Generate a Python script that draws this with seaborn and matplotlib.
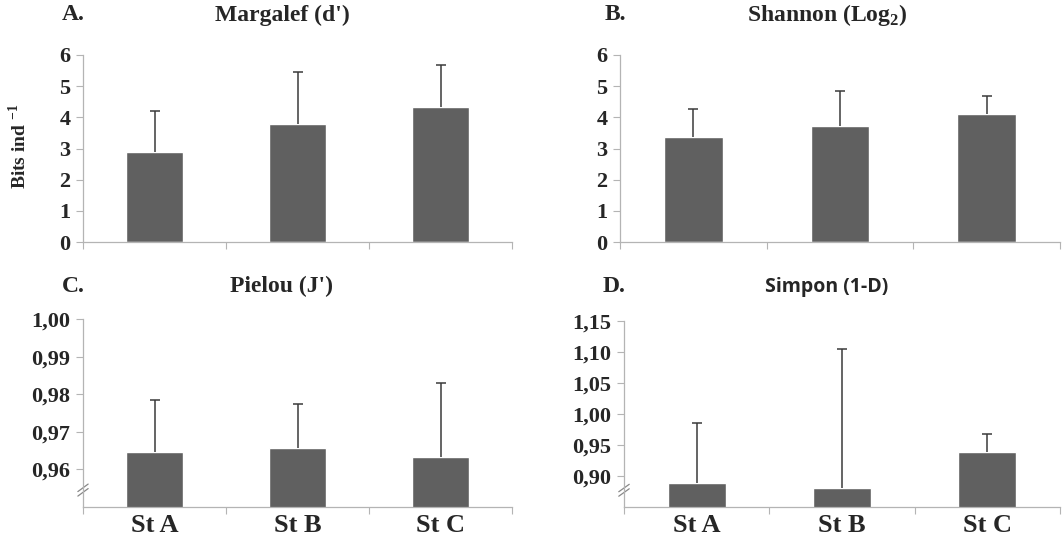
import numpy as np
import pandas as pd
import matplotlib
matplotlib.use("Agg")
import matplotlib.pyplot as plt
import seaborn as sns

# station labels
stations = ["St A", "St B", "St C"]

# mean values and upper standard deviation for each index
margalef_mean = [2.90, 3.80, 4.32]
margalef_sd = [1.30, 1.65, 1.37]

shannon_mean = [3.37, 3.73, 4.10]
shannon_sd = [0.89, 1.13, 0.59]

pielou_mean = [0.9647, 0.9657, 0.9634]
pielou_sd = [0.0137, 0.0117, 0.0197]

simpson_mean = [0.889, 0.881, 0.939]
simpson_sd = [0.097, 0.224, 0.028]

BAR_COLOR = "#606060"
ERR_COLOR = "#3a3a3a"
AXIS_COLOR = "#b4b4b4"

sns.set_theme(style="ticks")
plt.rcParams["font.family"] = ["Liberation Serif", "DejaVu Serif"]
plt.rcParams["font.weight"] = "bold"
plt.rcParams["mathtext.fontset"] = "custom"
plt.rcParams["mathtext.rm"] = "Liberation Serif:bold"
plt.rcParams["mathtext.bf"] = "Liberation Serif:bold"


def draw_panel(ax, means, sds, ylim, yticks, fmt, show_x, broken=False):
    """Bar chart with one-sided error bars in the old Excel look."""
    df = pd.DataFrame({"station": stations, "value": means})
    sns.barplot(data=df, x="station", y="value", color=BAR_COLOR,
                width=0.4, errorbar=None, saturation=1, ax=ax)
    x = np.arange(len(stations))
    eb = ax.errorbar(x, means, yerr=[np.zeros(len(sds)), sds], fmt="none",
                     ecolor=ERR_COLOR, elinewidth=1.1, capsize=3.5,
                     capthick=1.1)
    # only the upper cap is wanted
    eb[1][0].set_visible(False)

    ax.set_xlim(-0.5, len(stations) - 0.5)
    ax.set_ylim(*ylim)
    ax.set_yticks(yticks)
    ax.set_yticklabels([fmt(v).replace(".", ",") for v in yticks],
                       fontsize=16, fontweight="bold")
    ax.set_xlabel("")
    ax.set_ylabel("")

    # category boundaries carry the tick marks, labels sit in the middle
    ax.set_xticks(np.arange(-0.5, len(stations)), minor=True)
    ax.tick_params(axis="x", which="minor", length=5, width=0.8,
                   color=AXIS_COLOR, direction="out")
    ax.tick_params(axis="x", which="major", length=0, pad=5)
    ax.tick_params(axis="y", length=5, width=0.8, color=AXIS_COLOR,
                   direction="out", pad=4)
    if show_x:
        ax.set_xticklabels(stations, fontsize=19, fontweight="bold")
    else:
        ax.set_xticklabels([])

    sns.despine(ax=ax)
    for side in ["left", "bottom"]:
        ax.spines[side].set_color(AXIS_COLOR)
        ax.spines[side].set_linewidth(0.9)

    if broken:
        # little "//" marks on the y axis to show the cut
        yb = 0.09
        for dy in (-0.012, 0.012):
            ax.plot([-0.012, 0.012], [yb + dy - 0.02, yb + dy + 0.02],
                    transform=ax.transAxes, color="#888888", lw=0.9,
                    clip_on=False)


fig = plt.figure(figsize=(10.64, 5.44), dpi=100)
W, H = 1064, 544


def add_axes(left, right, top, bottom):
    return fig.add_axes([left / W, 1 - bottom / H, (right - left) / W,
                         (bottom - top) / H])


ax_a = add_axes(83, 512, 55, 242)
ax_b = add_axes(620, 1060, 55, 242)
ax_c = add_axes(83, 512, 319, 507)
ax_d = add_axes(624, 1060, 321, 507)

draw_panel(ax_a, margalef_mean, margalef_sd, (0, 6), np.arange(0, 7),
           lambda v: f"{v:.0f}", False)
draw_panel(ax_b, shannon_mean, shannon_sd, (0, 6), np.arange(0, 7),
           lambda v: f"{v:.0f}", False)
draw_panel(ax_c, pielou_mean, pielou_sd, (0.95, 1.0),
           np.round(np.arange(0.96, 1.0001, 0.01), 2),
           lambda v: f"{v:.2f}", True, broken=True)
draw_panel(ax_d, simpson_mean, simpson_sd, (0.85, 1.15),
           np.round(np.arange(0.90, 1.1501, 0.05), 2),
           lambda v: f"{v:.2f}", True, broken=True)

ax_a.set_ylabel("Bits ind $^{-1}$", fontsize=14, fontweight="bold")
ax_a.yaxis.set_label_coords(-0.124, 0.51)

# panel letters and titles
def ftext(x, y, s, **kw):
    fig.text(x / W, 1 - y / H, s, ha="center", va="center", **kw)


ftext(73, 15, "A.", fontsize=17, fontweight="bold")
ftext(282, 15, "Margalef (d')", fontsize=17, fontweight="bold")
ftext(615, 15, "B.", fontsize=17, fontweight="bold")
ftext(827, 15, "Shannon (Log$_{2}$)", fontsize=17, fontweight="bold")
ftext(73, 286, "C.", fontsize=17, fontweight="bold")
ftext(282, 286, "Pielou (J')", fontsize=17, fontweight="bold")
ftext(614, 286, "D.", fontsize=17, fontweight="bold")
ftext(827, 287, "Simpon (1-D)", fontsize=14, fontweight="bold",
      family=["Open Sans", "DejaVu Sans"])

fig.savefig("out.png", dpi=100, facecolor="white")
